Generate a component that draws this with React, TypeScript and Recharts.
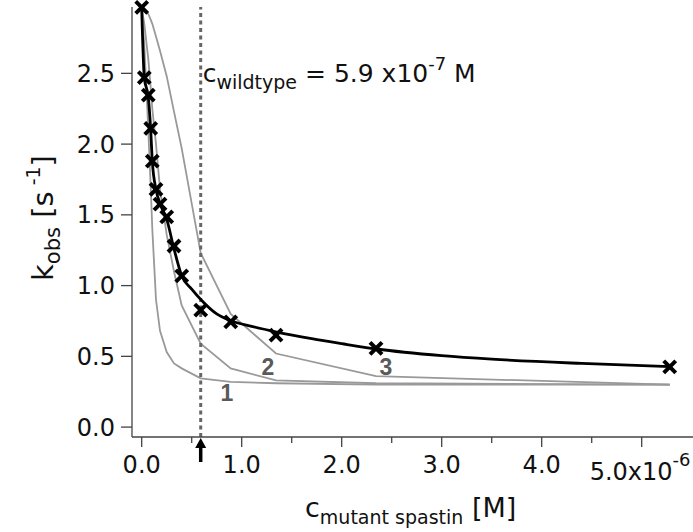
import {
  ComposedChart,
  Line,
  Scatter,
  XAxis,
  YAxis,
  ReferenceLine,
  ReferenceDot,
} from 'recharts';

// Concentrations are in units of 10^-6 M, k_obs in s^-1.
const concentrations = [0, 0.026, 0.066, 0.09, 0.106, 0.143, 0.183, 0.25, 0.323, 0.4, 0.59, 0.89, 1.343, 2.343, 5.28];
const kObserved = [2.966, 2.47, 2.346, 2.111, 1.88, 1.68, 1.576, 1.486, 1.28, 1.069, 0.827, 0.744, 0.65, 0.556, 0.426];

// simulated curves 1, 2, 3 (grey), evaluated at the measured concentrations
const simulation1 = [2.966, 2.7, 2.1, 1.7, 1.4, 0.9, 0.68, 0.53, 0.45, 0.415, 0.345, 0.32, 0.31, 0.3, 0.3];
const simulation2 = [2.966, 2.85, 2.6, 2.4, 2.25, 2.0, 1.68, 1.36, 1.1, 0.86, 0.59, 0.415, 0.33, 0.31, 0.3];
const simulation3 = [2.966, 2.95, 2.92, 2.88, 2.85, 2.76, 2.66, 2.48, 2.23, 1.97, 1.23, 0.8, 0.52, 0.36, 0.3];

// fitted curve (black)
const fitConcentrations = [0, 0.026, 0.066, 0.09, 0.106, 0.143, 0.183, 0.25, 0.323, 0.4, 0.5, 0.6, 0.75, 0.9, 1.1, 1.35, 1.7, 2.0, 2.35, 3.0, 3.5, 4.4, 5.28];
const fitK = [2.96, 2.47, 2.33, 2.1, 1.88, 1.68, 1.58, 1.47, 1.26, 1.07, 0.975, 0.895, 0.8, 0.75, 0.712, 0.672, 0.625, 0.59, 0.552, 0.505, 0.48, 0.45, 0.428];

const xTicks = [0, 0.5, 1, 1.5, 2, 2.5, 3, 3.5, 4, 4.5, 5];
const yTicks = [0, 0.5, 1, 1.5, 2, 2.5];
const wildtypeConc = 0.59;

const FONT = '"DejaVu Sans", Verdana, sans-serif';
const AXIS = '#444';

const measured = concentrations.map((c, i) => ({ c, k: kObserved[i] }));
const sim1 = concentrations.map((c, i) => ({ c, k: simulation1[i] }));
const sim2 = concentrations.map((c, i) => ({ c, k: simulation2[i] }));
const sim3 = concentrations.map((c, i) => ({ c, k: simulation3[i] }));
const fit = fitConcentrations.map((c, i) => ({ c, k: fitK[i] }));

function CrossMark(props: any) {
  const { cx, cy } = props;
  const s = 6;
  return (
    <g stroke="#000" strokeWidth={4}>
      <line x1={cx - s} y1={cy - s} x2={cx + s} y2={cy + s} />
      <line x1={cx - s} y1={cy + s} x2={cx + s} y2={cy - s} />
    </g>
  );
}

function XTick(props: any) {
  const { x, y, payload } = props;
  const v = payload.value as number;
  const major = Math.abs(v - Math.round(v)) < 1e-6;
  return (
    <g>
      <line x1={x} x2={x} y1={y} y2={y + (major ? 10 : 6)} stroke={AXIS} strokeWidth={1.3} />
      {major && v < 5 && (
        <text x={x} y={y + 36} textAnchor="middle" fontSize={24} fontFamily={FONT} fill="#111">
          {v.toFixed(1)}
        </text>
      )}
      {v === 5 && (
        <text x={x - 52} y={y + 43} fontSize={24} fontFamily={FONT} fill="#111">
          5.0x10
          <tspan dy={-14} fontSize={18}>-6</tspan>
        </text>
      )}
    </g>
  );
}

function XTitle() {
  return (
    <text x={305} y={517} fontSize={27} fontFamily={FONT} fill="#111">
      c
      <tspan dy={7} fontSize={19}>mutant spastin</tspan>
      <tspan dy={-7}> [M]</tspan>
    </text>
  );
}

function YTitle() {
  return (
    <text
      x={0}
      y={0}
      transform="translate(53, 218) rotate(-90)"
      textAnchor="middle"
      fontSize={29}
      fontFamily={FONT}
      fill="#111"
    >
      k
      <tspan dy={7} fontSize={21}>obs</tspan>
      <tspan dy={-7}> [s</tspan>
      <tspan dy={-13} fontSize={19}> -1</tspan>
      <tspan dy={13}>]</tspan>
    </text>
  );
}

function WildtypeMarker(props: any) {
  const { viewBox } = props;
  const x = viewBox.x;
  const bottom = viewBox.y + viewBox.height;
  return (
    <g>
      <text x={x + 2} y={82} fontSize={25} fontFamily={FONT} fill="#111">
        c
        <tspan dy={7} fontSize={19}>wildtype</tspan>
        <tspan dy={-7}> = 5.9 x10</tspan>
        <tspan dy={-12} fontSize={18}>-7</tspan>
        <tspan dy={12}> M</tspan>
      </text>
      <path
        d={`M${x},${bottom + 1} L${x - 5.5},${bottom + 11} L${x + 5.5},${bottom + 11} Z`}
        fill="#000"
      />
      <line x1={x} x2={x} y1={bottom + 10} y2={bottom + 25} stroke="#000" strokeWidth={3.5} />
    </g>
  );
}

function curveLabel(text: string) {
  return (props: any) => {
    const { viewBox } = props;
    return (
      <text
        x={viewBox.x + (viewBox.width || 0) / 2}
        y={viewBox.y + (viewBox.height || 0) / 2 + 8}
        textAnchor="middle"
        fontSize={23}
        fontWeight="bold"
        fontFamily='"Liberation Sans", Arial, sans-serif'
        fill="#5a5a5a"
      >
        {text}
      </text>
    );
  };
}

export default function App() {
  return (
    <div style={{ position: 'absolute', left: 0, top: 0, width: 693, height: 532, background: '#fff' }}>
      <ComposedChart width={693} height={532} margin={{ top: 7, right: 0, left: 0, bottom: 0 }}>
        <XAxis
          type="number"
          dataKey="c"
          domain={[-0.097, 5.513]}
          ticks={xTicks}
          interval={0}
          height={95}
          tickLine={false}
          tickSize={0}
          tickMargin={0}
          tick={<XTick />}
          axisLine={{ stroke: AXIS, strokeWidth: 1.3 }}
        />
        <YAxis
          type="number"
          dataKey="k"
          domain={[-0.07, 2.969]}
          ticks={yTicks}
          interval={0}
          width={132}
          tickSize={11}
          tickMargin={6}
          tickFormatter={(v: number) => v.toFixed(1)}
          tick={{ fontSize: 24, fontFamily: FONT, fill: '#111' }}
          tickLine={{ stroke: AXIS, strokeWidth: 1.3 }}
          axisLine={{ stroke: AXIS, strokeWidth: 1.3 }}
        />
        <Line data={sim1} dataKey="k" type="linear" stroke="#999" strokeWidth={1.8} dot={false} isAnimationActive={false} />
        <Line data={sim2} dataKey="k" type="linear" stroke="#999" strokeWidth={1.8} dot={false} isAnimationActive={false} />
        <Line data={sim3} dataKey="k" type="linear" stroke="#999" strokeWidth={1.8} dot={false} isAnimationActive={false} />
        <ReferenceLine
          x={wildtypeConc}
          stroke="#666"
          strokeWidth={3}
          strokeDasharray="4 3.5"
          label={<WildtypeMarker />}
        />
        <Line data={fit} dataKey="k" type="monotone" stroke="#000" strokeWidth={2.8} dot={false} isAnimationActive={false} />
        <Scatter data={measured} dataKey="k" shape={<CrossMark />} isAnimationActive={false} />
        <ReferenceDot x={0.853} y={0.24} r={0} stroke="none" label={curveLabel('1')} />
        <ReferenceDot x={1.263} y={0.426} r={0} stroke="none" label={curveLabel('2')} />
        <ReferenceDot x={2.443} y={0.426} r={0} stroke="none" label={curveLabel('3')} />
        <XTitle />
        <YTitle />
      </ComposedChart>
    </div>
  );
}
